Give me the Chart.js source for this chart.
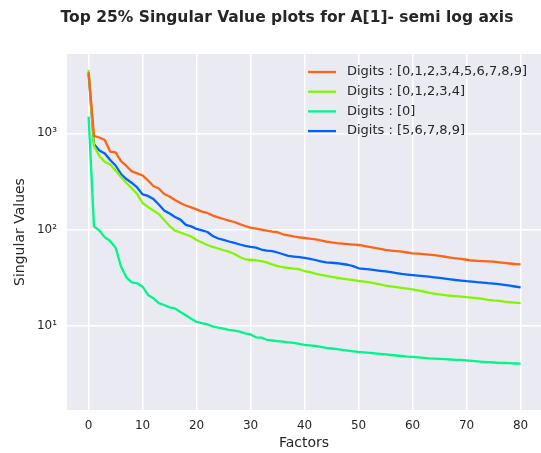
<!DOCTYPE html>
<html>
<head>
<meta charset="utf-8">
<script src="https://cdn.jsdelivr.net/npm/chart.js@4.4.1/dist/chart.umd.min.js"></script>
<style>
  html, body { margin: 0; padding: 0; background: #fff; }
  #wrap { width: 541px; height: 453px; }
</style>
</head>
<body>
<div id="wrap"><canvas id="myChart"></canvas></div>
<script>
const factors = [0,1,2,3,4,5,6,7,8,9,10,11,12,13,14,15,16,17,18,19,20,
  21,22,23,24,25,26,27,28,29,30,31,32,33,34,35,36,37,38,39,40,
  41,42,43,44,45,46,47,48,49,50,51,52,53,54,55,56,57,58,59,60,
  61,62,63,64,65,66,67,68,69,70,71,72,73,74,75,76,77,78,79,80];

const allDigits = [4300,937,904,850,646,632,515,458,402,383,365,324,284,267,234,221,203,189,178,170,162,
  154,149,140,134,129,124,120,114,109,104.8,102.3,100,97.5,95.2,93.9,89.5,87.0,84.9,83.3,81.9,
  80.5,79.4,77.2,75.3,73.6,72.3,71.5,70.6,69.9,69.3,67.7,66.1,64.5,63.0,61.5,60.6,59.8,59.0,57.9,56.8,
  56.3,55.6,55.0,54.3,53.3,52.3,51.3,50.4,49.6,48.7,47.8,47.5,47.2,46.8,46.5,45.8,45.1,44.5,44.0,43.7];

const lowDigits = [4539,738,581,504,475,411,352,305,269,234,189,172,158,145,126,109,97.5,93.4,89.0,84.9,78.1,
  73.6,69.3,66.1,63.7,61.1,59.0,55.9,52.0,49.2,48.7,48.1,47.1,45.8,43.5,41.9,40.7,40.0,39.3,38.8,37.2,
  36.2,35.0,34.0,33.2,32.4,31.8,31.1,30.5,30.0,29.4,28.9,28.3,27.7,27.0,26.3,25.8,25.3,24.8,24.4,24.0,
  23.4,22.8,22.2,21.7,21.3,20.9,20.6,20.4,20.2,19.9,19.7,19.4,19.1,18.7,18.4,18.2,17.9,17.7,17.5,17.3];

const zeroDigit = [1487,108,98.0,83.3,76.2,65.0,41.5,32.0,28.4,27.7,25.6,21.0,19.4,17.3,16.5,15.6,15.2,14.0,12.9,11.9,11.0,
  10.7,10.4,9.88,9.60,9.38,9.13,8.94,8.73,8.40,8.16,7.63,7.56,7.19,7.07,6.97,6.87,6.77,6.69,6.51,6.35,
  6.28,6.20,6.08,5.94,5.84,5.74,5.65,5.55,5.46,5.38,5.32,5.26,5.21,5.14,5.07,5.00,4.94,4.88,4.82,4.78,
  4.72,4.67,4.62,4.59,4.56,4.52,4.49,4.46,4.44,4.40,4.34,4.29,4.25,4.21,4.18,4.15,4.13,4.11,4.08,4.06];

const highDigits = [4195,769,663,617,528,463,378,335,305,274,232,224,208,182,158,147,135,127,112,108,101.6,
  98.0,94.5,85.9,80.9,78.1,75.3,72.7,70.1,67.7,66.1,65.1,62.2,60.6,59.8,57.9,55.5,53.3,52.5,51.8,50.9,
  49.8,48.4,46.9,45.8,45.3,44.8,44.0,43.2,41.8,39.7,39.1,38.6,38.0,37.4,36.9,36.2,35.4,34.7,34.2,33.8,
  33.4,33.0,32.6,32.0,31.5,31.0,30.5,30.0,29.6,29.2,28.9,28.5,28.2,27.8,27.5,27.2,26.7,26.2,25.7,25.2];

const seriesLabels = ["Digits : [0,1,2,3,4,5,6,7,8,9]", "Digits : [0,1,2,3,4]", "Digits : [0]", "Digits : [5,6,7,8,9]"];
const seriesColors = ["#ff6314", "#84f500", "#00f58a", "#0062ff"];
const xTicks = [0, 10, 20, 30, 40, 50, 60, 70, 80];
const yTicks = [10, 100, 1000];
const yTickLabels = ["10\u00b9", "10\u00b2", "10\u00b3"];

const textColor = "#262626";
Chart.defaults.font.family = "'DejaVu Sans', sans-serif";
Chart.defaults.color = textColor;

const seriesValues = [allDigits, lowDigits, zeroDigit, highDigits];

const datasets = seriesValues.map((vals, k) => ({
  label: seriesLabels[k],
  data: vals.map((v, i) => ({ x: factors[i], y: v })),
  borderColor: seriesColors[k],
  backgroundColor: seriesColors[k],
  borderWidth: 2.3,
  pointRadius: 0,
  tension: 0,
  borderJoinStyle: 'round',
  fill: false
}));

// grey plot background, like seaborn darkgrid
const plotBg = {
  id: 'plotBg',
  beforeDraw(chart) {
    const {ctx, chartArea: a} = chart;
    ctx.save();
    ctx.fillStyle = '#eaeaf2';
    ctx.fillRect(a.left, a.top, a.right - a.left, a.bottom - a.top);
    ctx.restore();
  }
};

// title and legend drawn inside
const overlay = {
  id: 'overlay',
  afterDraw(chart) {
    const ctx = chart.ctx;
    ctx.save();
    ctx.fillStyle = textColor;
    ctx.font = "bold 15.5px 'DejaVu Sans'";
    ctx.textAlign = 'center';
    ctx.textBaseline = 'alphabetic';
    ctx.fillText("Top 25% Singular Value plots for A[1]- semi log axis", 287, 21.5);

    ctx.font = "13px 'DejaVu Sans'";
    ctx.textAlign = 'left';
    ctx.textBaseline = 'middle';
    chart.data.datasets.forEach((ds, k) => {
      const y = 72 + k * 19.7;
      ctx.strokeStyle = ds.borderColor;
      ctx.lineWidth = 2.3;
      ctx.beginPath();
      ctx.moveTo(308, y);
      ctx.lineTo(336, y);
      ctx.stroke();
      ctx.fillStyle = textColor;
      ctx.fillText(ds.label, 347, y);
    });
    ctx.restore();
  }
};

const config = {
  type: 'line',
  data: { datasets: datasets },
  options: {
    responsive: true,
    maintainAspectRatio: false,
    animation: false,
    layout: { padding: { top: 54, left: 0, right: 0, bottom: 0 } },
    plugins: {
      legend: { display: false },
      title: { display: false },
      tooltip: { enabled: false }
    },
    scales: {
      x: {
        type: 'linear',
        min: -4,
        max: 83.78,
        afterBuildTicks: (s) => { s.ticks = xTicks.map(v => ({ value: v })); },
        afterFit: (s) => { s.height = 43; },
        grid: { color: '#ffffff', lineWidth: 1.5, drawTicks: false },
        border: { display: false },
        ticks: { padding: 9, font: { size: 12 }, color: textColor, maxRotation: 0 },
        title: { display: true, text: 'Factors', font: { size: 14 }, color: textColor, padding: { top: 0, bottom: 1.6 } }
      },
      y: {
        type: 'logarithmic',
        min: 1.343,
        max: 6650,
        afterBuildTicks: (s) => { s.ticks = yTicks.map(v => ({ value: v })); },
        afterFit: (s) => { s.width = 67; },
        grid: { color: '#ffffff', lineWidth: 1.5, drawTicks: false },
        border: { display: false },
        ticks: {
          padding: 10,
          font: { size: 12 },
          color: textColor,
          callback: (v) => yTickLabels[yTicks.indexOf(v)]
        },
        title: { display: true, text: 'Singular Values', font: { size: 14 }, color: textColor, padding: { top: 11.6, bottom: 0 } }
      }
    }
  },
  plugins: [plotBg, overlay]
};

var myChart = new Chart(document.getElementById('myChart'), config);
</script>
</body>
</html>
